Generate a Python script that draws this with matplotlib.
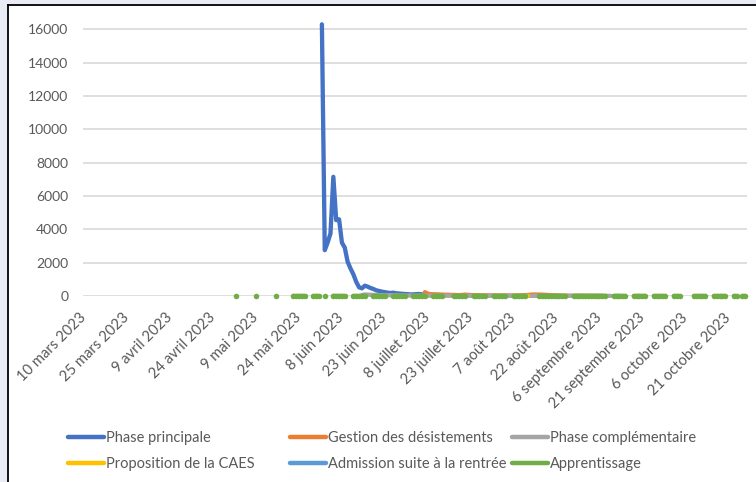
import numpy as np
import pandas as pd
import matplotlib
matplotlib.use("Agg")
import matplotlib.pyplot as plt
from matplotlib.patches import Rectangle
from matplotlib.lines import Line2D

plt.rcParams['font.family'] = ['Lato', 'DejaVu Sans']

# ---------------- data ----------------
axis_start = "2023-03-10"
axis_end = "2023-10-27"

tick_dates = ["2023-03-10", "2023-03-25", "2023-04-09", "2023-04-24", "2023-05-09",
              "2023-05-24", "2023-06-08", "2023-06-23", "2023-07-08", "2023-07-23",
              "2023-08-07", "2023-08-22", "2023-09-06", "2023-09-21", "2023-10-06",
              "2023-10-21"]
tick_labels = ["10 mars 2023", "25 mars 2023", "9 avril 2023", "24 avril 2023", "9 mai 2023",
               "24 mai 2023", "8 juin 2023", "23 juin 2023", "8 juillet 2023", "23 juillet 2023",
               "7 août 2023", "22 août 2023", "6 septembre 2023", "21 septembre 2023",
               "6 octobre 2023", "21 octobre 2023"]
y_ticks = [0, 2000, 4000, 6000, 8000, 10000, 12000, 14000, 16000]

series_names = ["Phase principale", "Gestion des désistements", "Phase complémentaire",
                "Proposition de la CAES", "Admission suite à la rentrée", "Apprentissage"]
series_colors = ["#4472C4", "#ED7D31", "#A5A5A5", "#FFC000", "#5B9BD5", "#70AD47"]

# Phase principale: daily values from 1 June 2023
phase_principale_start = "2023-06-01"
phase_principale = [16300, 2750, 3200, 3750, 7150, 4550, 4600, 3200, 2900, 2050,
                    1650, 1300, 850, 520, 460, 620, 560, 480, 420, 340,
                    300, 260, 230, 200, 180, 200, 160, 150, 130, 120,
                    110, 90, 100, 110, 120, 100]

# Gestion des désistements: daily values from 7 July 2023
desistements_start = "2023-07-07"
desistements = [230, 140, 110, 100, 100, 90, 80, 75, 70, 70,
                65, 60, 55, 60, 80, 65, 55, 50, 45, 45,
                40, 40, 40, 35, 35, 35, 30, 30, 30, 30,
                30, 30, 30, 35, 40, 50, 60, 80, 90, 90,
                85, 80, 70, 60, 50, 40, 35, 30, 25, 20,
                20, 15, 15, 10, 10, 10, 10, 10, 10, 5,
                5, 5, 5]

# Phase complémentaire: daily values from 15 June 2023
complementaire_start = "2023-06-15"
complementaire = [60, 90, 80, 70, 65, 60, 55, 50, 50, 45,
                  45, 40, 40, 35, 35, 30, 30, 30, 28, 25,
                  25, 25, 22, 20, 20, 20, 18, 18, 15, 15,
                  15, 15, 14, 14, 12, 12, 12, 10, 10, 10,
                  10, 10, 10, 10, 10, 10, 10, 10, 10, 10,
                  10, 10, 10, 10, 10, 10, 10, 10, 10, 10,
                  10, 10, 10, 10, 10, 10, 10, 10, 10, 10,
                  10, 10, 10, 10, 10, 10, 10, 10, 10, 10,
                  10, 10, 10, 10, 10, 10, 8, 8]

# Proposition de la CAES: short runs (start date, daily values)
caes_run_starts = ["2023-06-05", "2023-08-11", "2023-09-18"]
caes_run_values = [[5, 5], [5, 5], [3, 3, 3, 3, 3]]

# Admission suite à la rentrée
rentree_run_starts = ["2023-09-11"]
rentree_run_values = [[4, 4, 4]]

# Apprentissage: runs of consecutive days (start date, daily values)
apprentissage_run_starts = ["2023-05-02", "2023-05-09", "2023-05-16", "2023-05-22", "2023-05-29",
                            "2023-06-02", "2023-06-05", "2023-06-12", "2023-06-19", "2023-06-26",
                            "2023-07-03", "2023-07-10", "2023-07-17", "2023-07-24", "2023-07-31",
                            "2023-08-07", "2023-08-16", "2023-08-28", "2023-09-11", "2023-09-18",
                            "2023-09-25", "2023-10-02", "2023-10-09", "2023-10-16", "2023-10-23",
                            "2023-10-26"]
apprentissage_run_values = [[5], [5], [5], [6, 6, 5, 5, 5], [5, 6, 6],
                            [6], [6, 6, 5, 5, 5], [5, 5, 5, 5, 5], [5, 5, 5, 5, 5], [5, 5, 5, 5, 5],
                            [5, 5, 5, 5, 5], [5, 5, 5, 5], [5, 5, 5, 5, 5], [5, 5, 5, 5, 5], [5, 5, 5, 5, 5],
                            [5, 5, 5, 5, 5], [5, 5, 5, 5, 5, 5, 5, 5, 5, 5],
                            [5, 5, 5, 5, 5, 5, 5, 5, 5, 5, 5, 5],
                            [5, 5, 5, 5, 5], [5, 5, 5, 5, 5], [5, 5, 5, 5, 5], [5, 5, 5],
                            [5, 5, 5, 5, 5], [5, 5, 5, 5, 5], [5, 5], [5, 5]]

# ---------------- helpers ----------------
full_index = pd.date_range(axis_start, axis_end, freq="D")


def daily(start, values):
    s = pd.Series(values, index=pd.date_range(start, periods=len(values), freq="D"), dtype=float)
    return s.reindex(full_index)


def runs(starts, values_list):
    parts = [pd.Series(v, index=pd.date_range(st, periods=len(v), freq="D"), dtype=float)
             for st, v in zip(starts, values_list)]
    return pd.concat(parts).reindex(full_index)


series = [
    daily(phase_principale_start, phase_principale),
    daily(desistements_start, desistements),
    daily(complementaire_start, complementaire),
    runs(caes_run_starts, caes_run_values),
    runs(rentree_run_starts, rentree_run_values),
    runs(apprentissage_run_starts, apprentissage_run_values),
]

# ---------------- figure ----------------
W, H = 756, 482
fig = plt.figure(figsize=(W / 100, H / 100), dpi=100)
fig.patch.set_facecolor("white")

# outer frame strips
lav = "#E9EBF5"
fig.patches.append(Rectangle((0, 1 - 4.5 / H), 1, 4.5 / H, transform=fig.transFigure,
                             facecolor=lav, edgecolor="none", zorder=0))
fig.patches.append(Rectangle((0, 0), 7 / W, 1, transform=fig.transFigure,
                             facecolor=lav, edgecolor="none", zorder=0))
fig.lines.append(Line2D([7.5 / W, 1], [1 - 5 / H, 1 - 5 / H], transform=fig.transFigure,
                        color="black", lw=1.3))
fig.lines.append(Line2D([7.5 / W, 7.5 / W], [0, 1 - 5 / H], transform=fig.transFigure,
                        color="black", lw=1.3))

ax_left, ax_right = 83, 747
ax_bottom, ax_top = 296, 19.3
ax = fig.add_axes([ax_left / W, 1 - ax_bottom / H, (ax_right - ax_left) / W,
                   (ax_bottom - ax_top) / H])

for s, name, col in zip(series, series_names, series_colors):
    # isolated points (gaps on both sides) are drawn as round dots, as in the source
    use_marker = name == "Apprentissage"
    ax.plot(s.index, s.values, color=col, lw=3.1, label=name, solid_capstyle="round",
            solid_joinstyle="round", marker="o" if use_marker else None,
            markersize=4.0, markeredgewidth=0, clip_on=False)

ax.set_ylim(0, 16600)
ax.set_yticks(y_ticks)
ax.set_yticklabels([str(v) for v in y_ticks])
ax.set_xlim(pd.Timestamp(axis_start) - pd.Timedelta(hours=12),
            pd.Timestamp(axis_end) + pd.Timedelta(hours=14))
ax.set_xticks(pd.to_datetime(tick_dates))
ax.set_xticklabels(tick_labels, rotation=45, ha="right", va="center",
                   rotation_mode="anchor", fontsize=10.6)

ax.yaxis.grid(True, color="#D9D9D9", lw=1.2)
ax.set_axisbelow(True)
for sp in ax.spines.values():
    sp.set_visible(False)
ax.tick_params(axis="both", length=0, colors="#595959")
ax.tick_params(axis="y", pad=10.5, labelsize=10)
ax.tick_params(axis="x", pad=14)

# legend: three columns of fixed width
fs = 10.5
cols = [(68, [0, 3]), (290, [1, 4]), (512, [2, 5])]
for x0, idx in cols:
    handles = [Line2D([], [], color=series_colors[i], lw=3.2, solid_capstyle="round") for i in idx]
    labels = [series_names[i] for i in idx]
    fig.legend(handles, labels, loc="upper left", bbox_to_anchor=(x0 / W, 1 - 431 / H),
               frameon=False, borderpad=0, borderaxespad=0, handlelength=2.45,
               handletextpad=0.15, labelspacing=0.82, fontsize=fs, labelcolor="#595959")

fig.savefig("out.png", dpi=100)
